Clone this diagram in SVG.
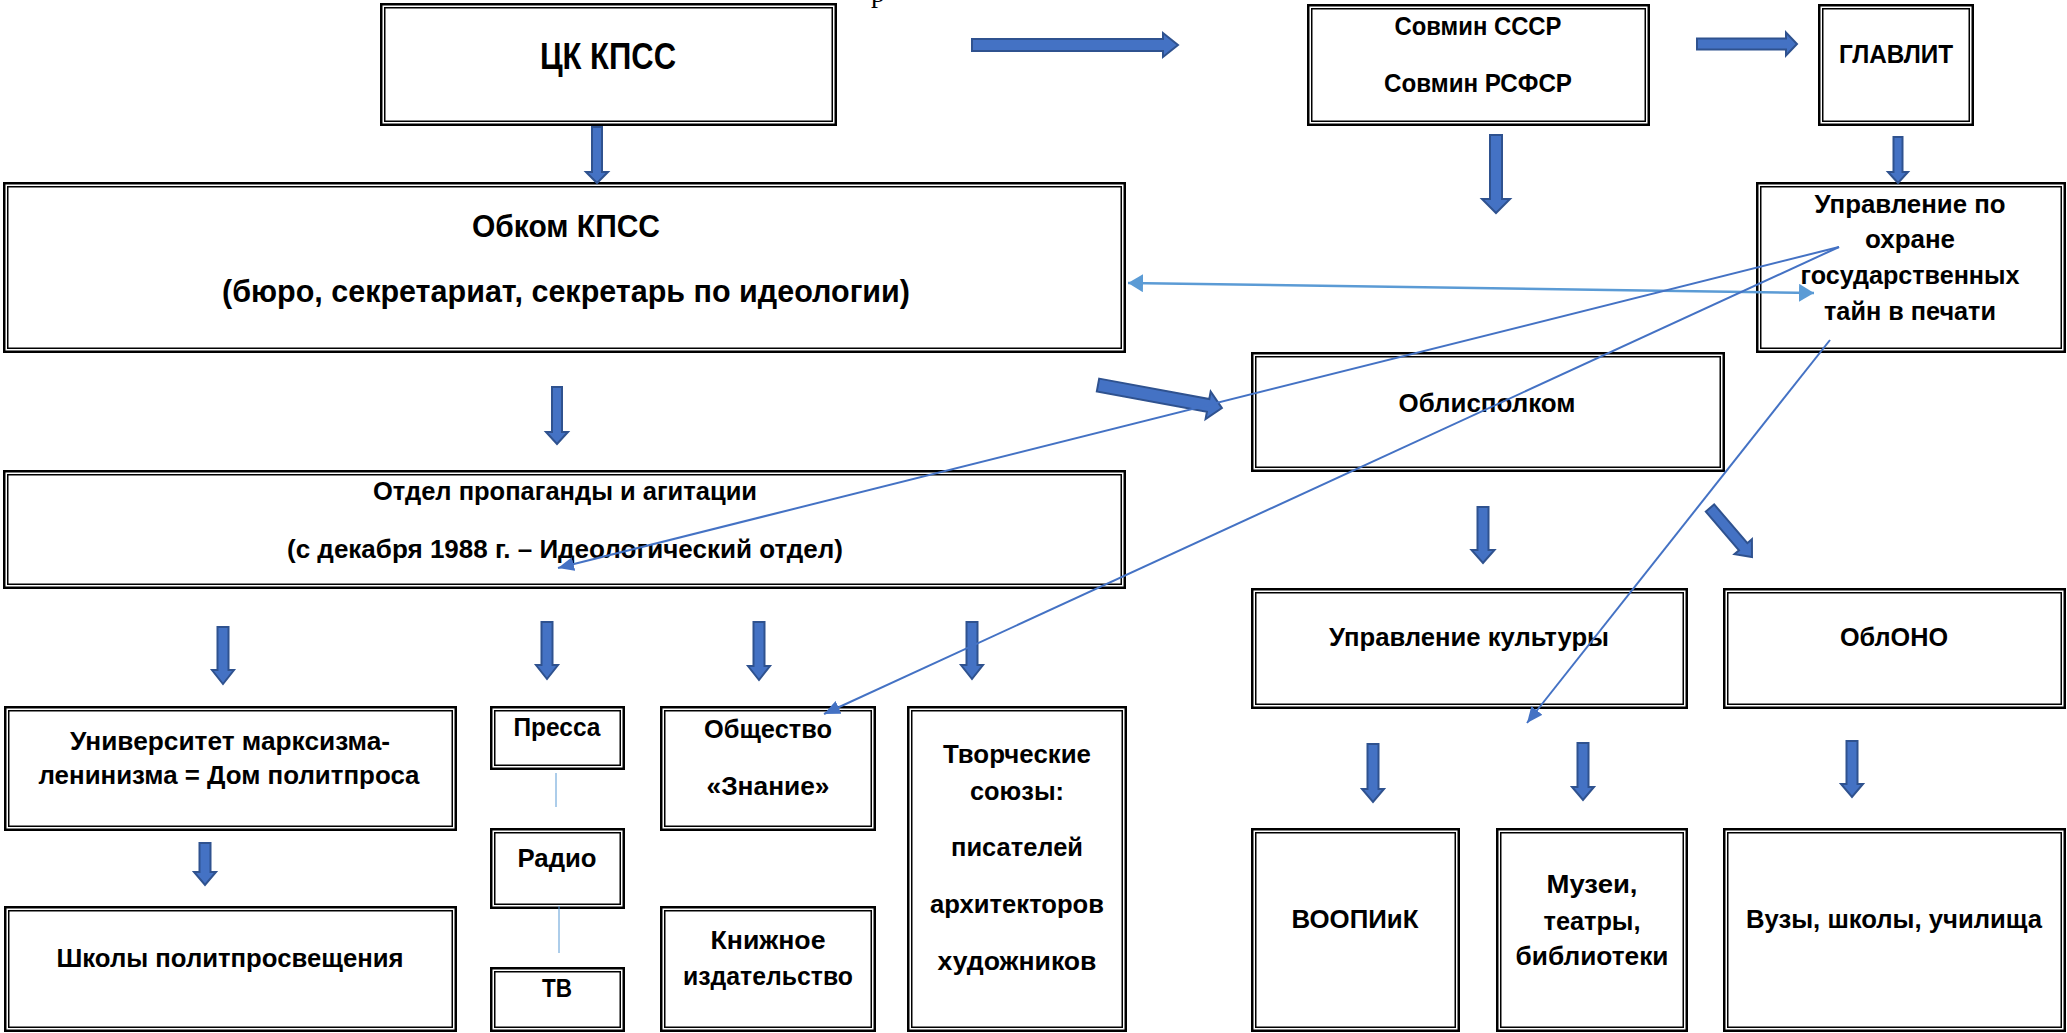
<svg xmlns="http://www.w3.org/2000/svg" width="2067" height="1033" viewBox="0 0 2067 1033">
<style>
.bo{fill:#fff;stroke:#000;stroke-width:2.5}
.bi{fill:none;stroke:#000;stroke-width:1.5}
.t{font-family:"Liberation Sans",Arial,sans-serif;font-weight:bold;fill:#000;text-anchor:middle}
.s36{font-size:36px}
.s31{font-size:31px}
.s25{font-size:25px}
.ba{fill:#4472C4;stroke:#2F528F;stroke-width:2;stroke-linejoin:miter}
.ln{fill:none;stroke:#4472C4;stroke-width:2}
.ln2{fill:none;stroke:#5B9BD5;stroke-width:2.5}
.ln3{fill:none;stroke:#5B9BD5;stroke-width:1}
</style>
<defs>
<marker id="ah" markerUnits="userSpaceOnUse" markerWidth="18" markerHeight="14" refX="16" refY="7" orient="auto"><path d="M0,0 L16,7 L0,14 z" fill="#4472C4"/></marker>
<marker id="ah2" markerUnits="userSpaceOnUse" markerWidth="16" markerHeight="18" refX="15" refY="9" orient="auto-start-reverse"><path d="M0,0 L15,9 L0,18 z" fill="#5B9BD5"/></marker>
</defs>
<rect width="2067" height="1033" fill="#fff"/>
<text x="878" y="2" style="font-family:'Liberation Serif',serif;font-size:28px;fill:#000;text-anchor:middle">р</text>

<g id="n-ck"><rect class="bo" x="381.25" y="4.25" width="454.5" height="120.5"/><rect class="bi" x="384.75" y="7.75" width="447.5" height="113.5"/>
<text class="t s36" x="608" y="69" textLength="136" lengthAdjust="spacingAndGlyphs">ЦК КПСС</text></g>

<g id="n-sovmin"><rect class="bo" x="1308.25" y="5.25" width="340.5" height="119.5"/><rect class="bi" x="1311.75" y="8.75" width="333.5" height="112.5"/>
<text class="t s25" x="1478" y="35" textLength="167" lengthAdjust="spacingAndGlyphs">Совмин СССР</text>
<text class="t s25" x="1478" y="92" textLength="188" lengthAdjust="spacingAndGlyphs">Совмин РСФСР</text></g>

<g id="n-glavlit"><rect class="bo" x="1819.25" y="5.25" width="153.5" height="119.5"/><rect class="bi" x="1822.75" y="8.75" width="146.5" height="112.5"/>
<text class="t s25" x="1896" y="63" textLength="114" lengthAdjust="spacingAndGlyphs">ГЛАВЛИТ</text></g>

<g id="n-obkom"><rect class="bo" x="4.25" y="183.25" width="1120.5" height="168.5"/><rect class="bi" x="7.75" y="186.75" width="1113.5" height="161.5"/>
<text class="t s31" x="566" y="237" textLength="188" lengthAdjust="spacingAndGlyphs">Обком КПСС</text>
<text class="t s31" x="566" y="302" textLength="688" lengthAdjust="spacingAndGlyphs">(бюро, секретариат, секретарь по идеологии)</text></g>

<g id="n-okhrana"><rect class="bo" x="1757.25" y="183.25" width="307.5" height="168.5"/><rect class="bi" x="1760.75" y="186.75" width="300.5" height="161.5"/>
<text class="t s25" x="1910" y="213" textLength="191" lengthAdjust="spacingAndGlyphs">Управление по</text>
<text class="t s25" x="1910" y="248" textLength="90" lengthAdjust="spacingAndGlyphs">охране</text>
<text class="t s25" x="1910" y="284" textLength="219" lengthAdjust="spacingAndGlyphs">государственных</text>
<text class="t s25" x="1910" y="320" textLength="172" lengthAdjust="spacingAndGlyphs">тайн в печати</text></g>

<g id="n-oblispolkom"><rect class="bo" x="1252.25" y="353.25" width="471.5" height="117.5"/><rect class="bi" x="1255.75" y="356.75" width="464.5" height="110.5"/>
<text class="t s25" x="1487" y="412" textLength="177" lengthAdjust="spacingAndGlyphs">Облисполком</text></g>

<g id="n-otdel"><rect class="bo" x="4.25" y="471.25" width="1120.5" height="116.5"/><rect class="bi" x="7.75" y="474.75" width="1113.5" height="109.5"/>
<text class="t s25" x="565" y="500" textLength="384" lengthAdjust="spacingAndGlyphs">Отдел пропаганды и агитации</text>
<text class="t s25" x="565" y="558" textLength="556" lengthAdjust="spacingAndGlyphs">(с декабря 1988 г. – Идеологический отдел)</text></g>

<g id="n-kultura"><rect class="bo" x="1252.25" y="589.25" width="434.5" height="118.5"/><rect class="bi" x="1255.75" y="592.75" width="427.5" height="111.5"/>
<text class="t s25" x="1469" y="646" textLength="280" lengthAdjust="spacingAndGlyphs">Управление культуры</text></g>

<g id="n-oblono"><rect class="bo" x="1724.25" y="589.25" width="340.5" height="118.5"/><rect class="bi" x="1727.75" y="592.75" width="333.5" height="111.5"/>
<text class="t s25" x="1894" y="646" textLength="108" lengthAdjust="spacingAndGlyphs">ОблОНО</text></g>

<g id="n-univ"><rect class="bo" x="5.25" y="707.25" width="450.5" height="122.5"/><rect class="bi" x="8.75" y="710.75" width="443.5" height="115.5"/>
<text class="t s25" x="230" y="750" textLength="320" lengthAdjust="spacingAndGlyphs">Университет марксизма-</text>
<text class="t s25" x="229" y="784" textLength="381" lengthAdjust="spacingAndGlyphs">ленинизма = Дом политпроса</text></g>

<g id="n-pressa"><rect class="bo" x="491.25" y="707.25" width="132.5" height="61.5"/><rect class="bi" x="494.75" y="710.75" width="125.5" height="54.5"/>
<text class="t s25" x="557" y="736" textLength="87" lengthAdjust="spacingAndGlyphs">Пресса</text></g>

<g id="n-radio"><rect class="bo" x="491.25" y="829.25" width="132.5" height="78.5"/><rect class="bi" x="494.75" y="832.75" width="125.5" height="71.5"/>
<text class="t s25" x="557" y="867" textLength="79" lengthAdjust="spacingAndGlyphs">Радио</text></g>

<g id="n-tv"><rect class="bo" x="491.25" y="968.25" width="132.5" height="62.5"/><rect class="bi" x="494.75" y="971.75" width="125.5" height="55.5"/>
<text class="t s25" x="557" y="997" textLength="30" lengthAdjust="spacingAndGlyphs">ТВ</text></g>

<g id="n-znanie"><rect class="bo" x="661.25" y="707.25" width="213.5" height="122.5"/><rect class="bi" x="664.75" y="710.75" width="206.5" height="115.5"/>
<text class="t s25" x="768" y="738" textLength="128" lengthAdjust="spacingAndGlyphs">Общество</text>
<text class="t s25" x="768" y="795" textLength="123" lengthAdjust="spacingAndGlyphs">«Знание»</text></g>

<g id="n-knizhnoe"><rect class="bo" x="661.25" y="907.25" width="213.5" height="123.5"/><rect class="bi" x="664.75" y="910.75" width="206.5" height="116.5"/>
<text class="t s25" x="768" y="949" textLength="115" lengthAdjust="spacingAndGlyphs">Книжное</text>
<text class="t s25" x="768" y="985" textLength="170" lengthAdjust="spacingAndGlyphs">издательство</text></g>

<g id="n-soyuzy"><rect class="bo" x="908.25" y="707.25" width="217.5" height="323.5"/><rect class="bi" x="911.75" y="710.75" width="210.5" height="316.5"/>
<text class="t s25" x="1017" y="763" textLength="148" lengthAdjust="spacingAndGlyphs">Творческие</text>
<text class="t s25" x="1017" y="800" textLength="94" lengthAdjust="spacingAndGlyphs">союзы:</text>
<text class="t s25" x="1017" y="856" textLength="132" lengthAdjust="spacingAndGlyphs">писателей</text>
<text class="t s25" x="1017" y="913" textLength="174" lengthAdjust="spacingAndGlyphs">архитекторов</text>
<text class="t s25" x="1017" y="970" textLength="159" lengthAdjust="spacingAndGlyphs">художников</text></g>

<g id="n-shkoly"><rect class="bo" x="5.25" y="907.25" width="450.5" height="123.5"/><rect class="bi" x="8.75" y="910.75" width="443.5" height="116.5"/>
<text class="t s25" x="230" y="967" textLength="347" lengthAdjust="spacingAndGlyphs">Школы политпросвещения</text></g>

<g id="n-voopiik"><rect class="bo" x="1252.25" y="829.25" width="206.5" height="201.5"/><rect class="bi" x="1255.75" y="832.75" width="199.5" height="194.5"/>
<text class="t s25" x="1355" y="928" textLength="127" lengthAdjust="spacingAndGlyphs">ВООПИиК</text></g>

<g id="n-muzei"><rect class="bo" x="1497.25" y="829.25" width="189.5" height="201.5"/><rect class="bi" x="1500.75" y="832.75" width="182.5" height="194.5"/>
<text class="t s25" x="1592" y="893" textLength="91" lengthAdjust="spacingAndGlyphs">Музеи,</text>
<text class="t s25" x="1592" y="930" textLength="97" lengthAdjust="spacingAndGlyphs">театры,</text>
<text class="t s25" x="1592" y="965" textLength="153" lengthAdjust="spacingAndGlyphs">библиотеки</text></g>

<g id="n-vuzy"><rect class="bo" x="1724.25" y="829.25" width="340.5" height="201.5"/><rect class="bi" x="1727.75" y="832.75" width="333.5" height="194.5"/>
<text class="t s25" x="1894" y="928" textLength="296" lengthAdjust="spacingAndGlyphs">Вузы, школы, училища</text></g>

<g id="connectors">
<polygon class="ba" points="972,39 1163,39 1163,33 1178,45 1163,57 1163,51 972,51"/>
<polygon class="ba" points="1697,38.5 1786,38.5 1786,32.5 1797,44 1786,55.5 1786,49.5 1697,49.5"/>
<polygon class="ba" points="592,127 602,127 602,172 608,172 597,183 586,172 592,172"/>
<polygon class="ba" points="1490,135 1502,135 1502,199 1510,199 1496,213 1482,199 1490,199"/>
<polygon class="ba" points="1893.5,137 1902.5,137 1902.5,172 1908,172 1898,183 1888,172 1893.5,172"/>
<polygon class="ba" points="552,387 562,387 562,432 568,432 557,444 546,432 552,432"/>
<polygon class="ba" transform="translate(1098,385) rotate(10.5)" points="0,-6.5 112,-6.5 112,-14 126,0 112,14 112,6.5 0,6.5"/>
<polygon class="ba" points="217.5,627 228.5,627 228.5,670 234,670 223,684 212,670 217.5,670"/>
<polygon class="ba" points="541.5,622 552.5,622 552.5,665 558,665 547,679 536,665 541.5,665"/>
<polygon class="ba" points="753.5,622 764.5,622 764.5,666 770,666 759,680 748,666 753.5,666"/>
<polygon class="ba" points="966.5,622 977.5,622 977.5,665 983,665 972,679 961,665 966.5,665"/>
<polygon class="ba" points="199.5,843 210.5,843 210.5,872 216,872 205,885 194,872 199.5,872"/>
<polygon class="ba" points="1477.5,507 1488.5,507 1488.5,550 1494.5,550 1483,563 1471.5,550 1477.5,550"/>
<polygon class="ba" transform="translate(1710,508) rotate(49.4)" points="0,-5.5 51,-5.5 51,-11.5 64.5,0 51,11.5 51,5.5 0,5.5"/>
<polygon class="ba" points="1367.5,744 1378.5,744 1378.5,789 1384,789 1373,802 1362,789 1367.5,789"/>
<polygon class="ba" points="1577.5,743 1588.5,743 1588.5,787 1594,787 1583,800 1572,787 1577.5,787"/>
<polygon class="ba" points="1846.5,741 1857.5,741 1857.5,784 1863,784 1852,797 1841,784 1846.5,784"/>
<path class="ln2" d="M1128,283 L1814,293" marker-start="url(#ah2)" marker-end="url(#ah2)"/>
<path class="ln" d="M1839,247 L558,568" marker-end="url(#ah)"/>
<path class="ln" d="M1839,247 L824,714" marker-end="url(#ah)"/>
<path class="ln" d="M1830,340 L1527,723" marker-end="url(#ah)"/>
<path class="ln3" d="M556,773 V807"/>
<path class="ln3" d="M559,906 V953"/>
</g>
</svg>
